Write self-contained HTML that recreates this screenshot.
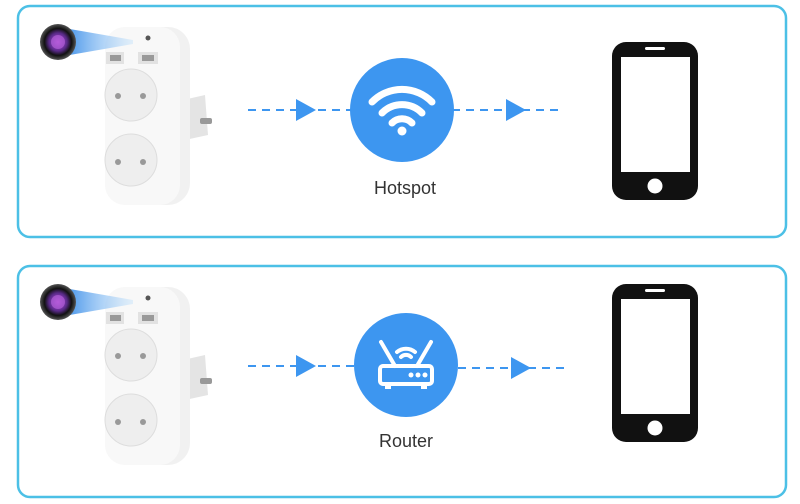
<!DOCTYPE html><html><head><style>body{margin:0;background:#fff}svg{display:block}</style></head><body>
<svg width="800" height="504" viewBox="0 0 800 504" xmlns="http://www.w3.org/2000/svg" font-family="Liberation Sans, sans-serif">
<defs>
<linearGradient id="beam" x1="0" x2="1"><stop offset="0" stop-color="#3d8ee8"/><stop offset="1" stop-color="#bfe0fb" stop-opacity="0.4"/></linearGradient>
<radialGradient id="lens"><stop offset="0" stop-color="#c050e0"/><stop offset=".5" stop-color="#5a2a8a"/><stop offset=".75" stop-color="#111"/><stop offset="1" stop-color="#555"/></radialGradient>
<g id="plug">
<path d="M183 100 L205 95 L208 135 L185 140Z" fill="#e4e4e4"/>
<rect x="200" y="118" width="12" height="6" rx="2" fill="#999"/>
<rect x="105" y="27" width="85" height="178" rx="22" fill="#f1f1f1"/>
<rect x="105" y="27" width="75" height="178" rx="20" fill="#f8f8f8"/>
<rect x="106" y="52" width="18" height="12" fill="#e2e2e2"/><rect x="110" y="55" width="11" height="6" fill="#999"/>
<rect x="138" y="52" width="20" height="12" fill="#e2e2e2"/><rect x="142" y="55" width="12" height="6" fill="#999"/>
<circle cx="148" cy="38" r="2.5" fill="#555"/>
<circle cx="131" cy="95" r="26" fill="#eee" stroke="#ddd"/>
<circle cx="131" cy="160" r="26" fill="#eee" stroke="#ddd"/>
<circle cx="118" cy="96" r="3" fill="#999"/><circle cx="143" cy="96" r="3" fill="#999"/>
<circle cx="118" cy="162" r="3" fill="#999"/><circle cx="143" cy="162" r="3" fill="#999"/>
<path d="M64 28 L133 40 L133 44 L64 56Z" fill="url(#beam)"/>
<circle cx="58" cy="42" r="18" fill="url(#lens)"/>
<circle cx="58" cy="42" r="7" fill="#b060d8" opacity=".7"/>
</g>
<g id="phone">
<rect x="612" y="0" width="86" height="158" rx="14" fill="#111"/>
<rect x="621" y="15" width="69" height="115" fill="#fff"/>
<circle cx="655" cy="144" r="7.5" fill="#fff"/>
<rect x="645" y="5" width="20" height="3" rx="1.5" fill="#fff"/>
<circle cx="655" cy="6.5" r="1.5" fill="#fff"/>
</g>
</defs>
<rect x="18" y="6" width="768" height="231" rx="12" fill="#fff" stroke="#4cc0e6" stroke-width="2.5"/>
<rect x="18" y="266" width="768" height="231" rx="12" fill="#fff" stroke="#4cc0e6" stroke-width="2.5"/>
<use href="#plug"/>
<use href="#plug" transform="translate(0,260)"/>
<!-- top row -->
<line x1="248" y1="110" x2="352" y2="110" stroke="#3d96f0" stroke-width="2" stroke-dasharray="8,6"/>
<line x1="452" y1="110" x2="560" y2="110" stroke="#3d96f0" stroke-width="2" stroke-dasharray="8,6"/>
<polygon points="296,99 316,110 296,121" fill="#3d96f0"/>
<polygon points="506,99 526,110 506,121" fill="#3d96f0"/>
<circle cx="402" cy="110" r="52" fill="#3d96f0"/>
<g fill="none" stroke="#fff" stroke-width="7" stroke-linecap="round">
<path d="M372 102 A42 42 0 0 1 432 102"/>
<path d="M382 113 A28 28 0 0 1 422 113"/>
<path d="M392 123 A14 14 0 0 1 412 123"/>
</g>
<circle cx="402" cy="131" r="4.5" fill="#fff"/>
<text x="405" y="194" text-anchor="middle" font-size="18" fill="#333">Hotspot</text>
<use href="#phone" transform="translate(0,42)"/>
<!-- bottom row -->
<line x1="248" y1="366" x2="354" y2="366" stroke="#3d96f0" stroke-width="2" stroke-dasharray="8,6"/>
<line x1="458" y1="368" x2="565" y2="368" stroke="#3d96f0" stroke-width="2" stroke-dasharray="8,6"/>
<polygon points="296,355 316,366 296,377" fill="#3d96f0"/>
<polygon points="511,357 531,368 511,379" fill="#3d96f0"/>
<circle cx="406" cy="365" r="52" fill="#3d96f0"/>
<g fill="none" stroke="#fff" stroke-width="4" stroke-linecap="round">
<line x1="381" y1="342" x2="395" y2="366"/><line x1="431" y1="342" x2="417" y2="366"/>
<path d="M397 352 A14 14 0 0 1 415 352"/><path d="M401 357 A7 7 0 0 1 411 357"/>
</g>
<rect x="380" y="366" width="52" height="18" rx="3" fill="none" stroke="#fff" stroke-width="4"/>
<circle cx="411" cy="375" r="2.5" fill="#fff"/><circle cx="418" cy="375" r="2.5" fill="#fff"/><circle cx="425" cy="375" r="2.5" fill="#fff"/>
<rect x="385" y="385" width="6" height="4" fill="#fff"/><rect x="421" y="385" width="6" height="4" fill="#fff"/>
<text x="406" y="447" text-anchor="middle" font-size="18" fill="#333">Router</text>
<use href="#phone" transform="translate(0,284)"/>
</svg>
</body></html>
